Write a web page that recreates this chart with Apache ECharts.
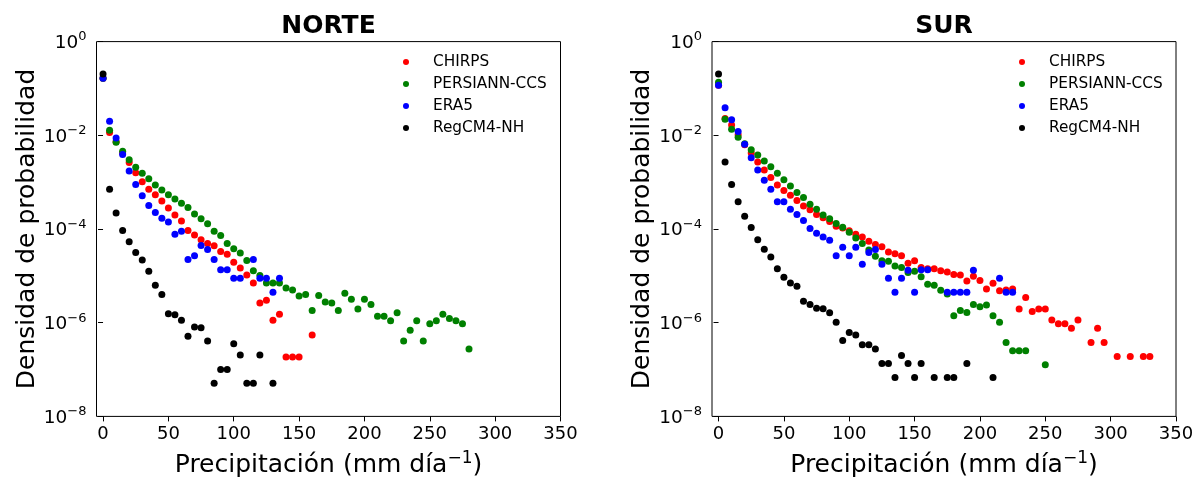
<!DOCTYPE html>
<html>
<head>
<meta charset="utf-8">
<script src="https://cdn.jsdelivr.net/npm/echarts@6/dist/echarts.min.js"></script>
<style>
html,body{margin:0;padding:0;background:#fff;}
#chart{width:1203px;height:479px;}
</style>
</head>
<body>
<div id="chart"></div>
<script>
// Precipitation bins (mm/day)
const bins = [0,5,10,15,20,25,30,35,40,45,50,55,60,65,70,75,80,85,90,95,100,105,110,115,120,125,130,135,140,145,150,155,160,165,170,175,180,185,190,195,200,205,210,215,220,225,230,235,240,245,250,255,260,265,270,275,280,285,290,295,300,305,310,315,320,325,330];

// Panel titles and series names
const panelTitles = ['NORTE', 'SUR'];
const seriesNames = ['CHIRPS', 'PERSIANN-CCS', 'ERA5', 'RegCM4-NH'];
const seriesColors = ['#ff0000', '#008000', '#0000ff', '#000000'];
const xTicks = [0, 50, 100, 150, 200, 250, 300, 350];

// log10 of probability density, one value per bin (null = no point)
const norteCHIRPS = [-0.78,-1.94,-2.14,-2.38,-2.58,-2.80,-2.99,-3.15,-3.27,-3.40,-3.55,-3.70,-3.83,-4.03,-4.13,-4.23,-4.31,-4.36,-4.48,-4.54,-4.71,-4.83,-4.98,-5.15,-5.58,-5.52,-5.95,-5.82,-6.73,-6.73,-6.73,null,-6.26];
const nortePERSIANN = [-0.78,-1.89,-2.15,-2.34,-2.52,-2.68,-2.81,-2.93,-3.06,-3.17,-3.27,-3.36,-3.45,-3.54,-3.68,-3.78,-3.89,-4.05,-4.14,-4.31,-4.42,-4.51,-4.67,-4.89,-4.99,-5.15,-5.15,-5.15,-5.26,-5.30,-5.43,-5.40,-5.74,-5.42,-5.56,-5.58,-5.74,-5.37,-5.50,-5.71,-5.50,-5.61,-5.86,-5.86,-5.96,-5.79,-6.39,-6.16,-5.96,-6.39,-6.02,-5.96,-5.82,-5.91,-5.96,-6.02,-6.56];
const norteERA5 = [-0.78,-1.70,-2.06,-2.41,-2.76,-3.05,-3.29,-3.50,-3.65,-3.77,-3.85,-4.11,-4.05,-4.65,-4.57,-4.35,-4.44,-4.65,-4.87,-4.87,-5.05,-5.05,null,-4.65,-5.05,-5.05,-5.35,-5.05];
const norteRegCM = [-0.69,-3.15,-3.66,-4.03,-4.27,-4.50,-4.66,-4.90,-5.20,-5.40,-5.81,-5.83,-5.95,-6.29,-6.09,-6.11,-6.39,-7.29,-7.00,-7.00,-6.45,-6.69,-7.29,-7.29,-6.69,null,-7.29];

const surCHIRPS = [-0.93,-1.64,-1.78,-1.99,-2.20,-2.38,-2.57,-2.74,-2.90,-3.06,-3.18,-3.28,-3.39,-3.51,-3.59,-3.69,-3.76,-3.84,-3.94,-3.98,-4.04,-4.11,-4.17,-4.26,-4.33,-4.38,-4.49,-4.53,-4.57,-4.73,-4.68,-4.82,-4.85,-4.85,-4.89,-4.92,-4.97,-4.98,-5.11,-5.01,-5.10,-5.28,-5.16,-5.32,-5.30,-5.28,-5.71,-5.46,-5.76,-5.71,-5.71,-5.94,-6.02,-6.02,-6.12,-5.94,null,-6.42,-6.12,-6.42,null,-6.72,null,-6.72,null,-6.72,-6.72];
const surPERSIANN = [-0.87,-1.66,-1.87,-2.04,-2.18,-2.31,-2.42,-2.55,-2.67,-2.81,-2.95,-3.08,-3.22,-3.33,-3.47,-3.58,-3.70,-3.78,-3.88,-3.96,-4.07,-4.19,-4.31,-4.45,-4.58,-4.68,-4.69,-4.79,-4.82,-4.93,-4.90,-5.02,-5.18,-5.20,-5.31,-5.39,-5.85,-5.74,-5.78,-5.61,-5.66,-5.62,-5.85,-5.99,-6.42,-6.60,-6.60,-6.60,null,null,-6.90];
const surERA5 = [-0.93,-1.41,-1.67,-1.92,-2.19,-2.48,-2.74,-2.96,-3.15,-3.42,-3.42,-3.58,-3.69,-3.82,-3.99,-4.09,-4.17,-4.24,-4.57,-4.39,-4.57,-4.39,-4.75,-4.50,-4.44,-4.75,-5.05,-5.35,-5.05,-4.88,-5.35,-4.87,-4.87,null,null,-5.35,-5.35,-5.35,-5.35,-4.88,null,null,null,-5.05,-5.35,-5.35];
const surRegCM = [-0.69,-2.57,-3.05,-3.42,-3.73,-3.97,-4.23,-4.43,-4.60,-4.85,-5.03,-5.15,-5.22,-5.54,-5.61,-5.69,-5.70,-5.79,-5.99,-6.38,-6.21,-6.26,-6.47,-6.47,-6.56,-6.87,-6.87,-7.17,-6.70,-6.87,-7.17,-6.87,null,-7.17,null,-7.17,-7.17,null,-6.87,null,null,null,-7.17];

const panels = [
  [norteCHIRPS, nortePERSIANN, norteERA5, norteRegCM],
  [surCHIRPS, surPERSIANN, surERA5, surRegCM]
];

const FONT = 'DejaVu Sans';
const toPoints = arr => arr.map((e, i) => e == null ? null : [bins[i], Math.pow(10, e)]).filter(p => p);

const gridLeft = [96.5, 712];
const gridWidth = 464;
const gridTop = 41.6;
const gridHeight = 374.8;

const grids = gridLeft.map(l => ({
  left: l, top: gridTop, width: gridWidth, height: gridHeight,
  outerBoundsMode: 'none',
  show: true, borderColor: '#000', borderWidth: 1, backgroundColor: '#fff', containLabel: false
}));

const xAxes = [0, 1].map(i => ({
  type: 'value', gridIndex: i, min: -5, max: 350,
  name: '{a|Precipitación (mm día}{s|−1}{a|)}',
  nameLocation: 'middle', nameGap: 34,
  nameTextStyle: {
    rich: {
      a: { fontFamily: FONT, fontSize: 25, color: '#000', verticalAlign: 'bottom' },
      s: { fontFamily: FONT, fontSize: 17, color: '#000', verticalAlign: 'bottom', padding: [0, 0, 11, 0] }
    }
  },
  axisLine: { show: false },
  splitLine: { show: false },
  axisTick: { show: true, inside: false, length: 5, customValues: xTicks, lineStyle: { color: '#000' } },
  axisLabel: { customValues: xTicks, margin: 9, fontFamily: FONT, fontSize: 18, color: '#000' }
}));

const yAxes = [0, 1].map(i => ({
  type: 'log', logBase: 10, gridIndex: i, min: 1e-8, max: 1, interval: 2,
  name: 'Densidad de probabilidad', nameLocation: 'middle', nameGap: 53,
  nameTextStyle: { fontFamily: FONT, fontSize: 25, color: '#000' },
  axisLine: { show: false },
  splitLine: { show: false },
  minorTick: { show: false },
  axisTick: { show: true, inside: false, length: 5, lineStyle: { color: '#000' } },
  axisLabel: {
    margin: 10,
    formatter: v => {
      const e = Math.round(Math.log10(v));
      return '{b|10}{s|' + (e < 0 ? '−' + (-e) : e) + '}';
    },
    rich: {
      b: { fontFamily: FONT, fontSize: 18.5, color: '#000', verticalAlign: 'bottom' },
      s: { fontFamily: FONT, fontSize: 13, color: '#000', verticalAlign: 'bottom', padding: [0, 0, 9, 0] }
    }
  }
}));

const series = [];
panels.forEach((arrs, p) => {
  arrs.forEach((arr, k) => {
    series.push({
      type: 'scatter', name: seriesNames[k], xAxisIndex: p, yAxisIndex: p,
      data: toPoints(arr), symbol: 'circle', symbolSize: 7,
      itemStyle: { color: seriesColors[k], opacity: 1 },
      emphasis: { disabled: true }, animation: false
    });
  });
});

const legendLeft = [398, 1014];
const legends = legendLeft.map(l => ({
  left: l, top: 49.5, orient: 'vertical', icon: 'circle',
  itemWidth: 44, itemHeight: 6, itemGap: 7,
  data: seriesNames,
  textStyle: { fontFamily: FONT, fontSize: 15.3, color: '#000', lineHeight: 15 },
  selectedMode: false
}));

const titles = panelTitles.map((t, i) => ({
  text: t, left: gridLeft[i] + gridWidth / 2 - 5, top: 9, textAlign: 'center',
  textStyle: { fontFamily: FONT, fontSize: 25, fontWeight: 'bold', color: '#000' }
}));

const chart = echarts.init(document.getElementById('chart'), null, { renderer: 'canvas' });
chart.setOption({
  animation: false,
  backgroundColor: '#fff',
  title: titles,
  legend: legends,
  grid: grids,
  xAxis: xAxes,
  yAxis: yAxes,
  series: series
});
</script>
</body>
</html>
